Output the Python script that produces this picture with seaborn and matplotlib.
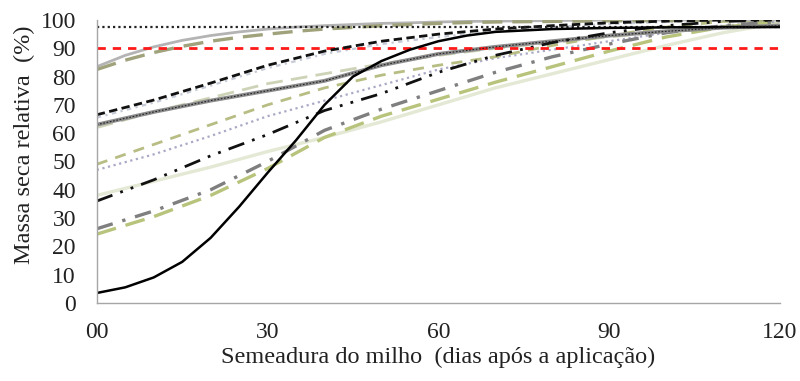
import numpy as np
import pandas as pd
import seaborn as sns
import matplotlib.pyplot as plt

# days after application
days = [0, 10, 20, 30, 40, 50, 60, 70, 80, 90, 100, 110, 120]
days_fine = [0, 5, 10, 15, 20, 25, 30, 35, 40, 45, 50, 55, 60, 65, 70, 80, 90, 100, 110, 120]

# relative dry mass (%)
ref_dotted = [97.5] * len(days)
ref_red = [90] * len(days)
gray_top = [83.5, 87.5, 90.5, 92.8, 94.5, 95.8, 96.8, 97.5, 98.0, 98.4, 98.8, 99.0, 99.3, 99.5, 99.6, 99.8, 100, 100, 100, 100]
olive_top = [82.5, 85.8, 88.5, 90.7, 92.5, 93.9, 95.0, 96.0, 96.8, 97.4, 98.0, 98.4, 98.8, 99.1, 99.3, 99.5, 99.7, 99.8, 100, 100]
black_dash = [66.5, 71.7, 77.7, 84.0, 89.0, 92.5, 95.0, 96.8, 98.0, 99.0, 99.6, 100, 100]
silver_dash = [65.5, 70.8, 76.8, 83.0, 88.0, 91.5, 94.0, 96.0, 97.5, 98.6, 99.3, 99.8, 100]
striped = [63.0, 67.5, 71.5, 75.0, 78.5, 84.0, 88.0, 90.5, 92.5, 94.5, 96.0, 97.3, 98.0]
pale_dash = [62.0, 67.5, 72.5, 77.5, 81.0, 84.5, 87.5, 90.0, 92.0, 94.0, 96.0, 97.8, 99.0]
olive_mid = [49.0, 56.0, 63.0, 70.0, 76.0, 80.5, 84.0, 87.0, 91.0, 94.5, 97.5, 99.5, 100]
lilac_dot = [47.0, 52.5, 59.0, 66.0, 71.5, 77.0, 82.5, 86.5, 89.5, 92.5, 95.5, 98.0, 99.5]
black_dd = [36.0, 43.5, 52.0, 59.5, 68.0, 74.0, 81.5, 87.5, 92.0, 95.5, 98.0, 99.5, 100]
pale_solid = [38.0, 43.0, 48.0, 53.5, 58.5, 64.0, 70.0, 76.0, 81.0, 86.0, 91.0, 95.5, 99.0]
gray_dd = [26.2, 32.5, 40.0, 50.0, 61.0, 68.5, 75.0, 81.5, 87.0, 91.5, 95.5, 98.0, 99.5]
olive_low = [24.3, 30.5, 38.0, 47.5, 58.5, 66.0, 72.0, 78.0, 83.5, 89.0, 94.0, 97.5, 99.5]
black_solid = [3.5, 5.5, 9.0, 14.5, 23.0, 34.0, 46.0, 57.5, 70.0, 80.0, 85.5, 89.5, 92.5, 94.5, 95.8, 96.8, 97.2, 97.4, 97.5, 97.5]

x_ticks = [0, 30, 60, 90, 120]
x_tick_labels = ["00", "30", "60", "90", "120"]
y_ticks = list(range(0, 101, 10))

sns.set_theme(style="white")
plt.rcParams["font.family"] = ["Liberation Serif", "DejaVu Serif"]

fig = plt.figure(figsize=(8, 3.81), dpi=100)
ax = fig.add_axes([0.121, 0.205, 0.854, 0.7425])

# (x, y, color, linewidth, dash pattern or None)
series = [
    (days, pale_solid, "#e3e9d4", 2.4, None),
    (days, pale_dash, "#cdd3b6", 2.0, (6, 3)),
    (days, silver_dash, "#c5cad6", 1.6, (2, 2, 1, 2)),
    (days, lilac_dot, "#a9a9c6", 1.6, (1, 1.6)),
    (days, olive_mid, "#b8bd84", 2.0, (4, 3)),
    (days_fine, gray_top, "#b4b4b4", 2.0, None),
    (days_fine, olive_top, "#9fa27a", 2.4, (6, 3)),
    (days, olive_low, "#b8c47c", 2.4, (6, 3)),
    (days, gray_dd, "#7f7f7f", 2.4, (5, 3, 1, 3)),
    (days, striped, "#8c8c8c", 2.8, None),
    (days, black_dd, "#111111", 2.0, (6, 3, 1, 3, 1, 3)),
    (days, ref_red, "#ff1a1a", 2.0, (3, 2.5)),
    (days, black_dash, "#111111", 2.0, (3, 1.6)),
    (days, ref_dotted, "#222222", 1.6, (1, 1.4)),
    (days_fine, black_solid, "#000000", 1.8, None),
]

for x, y, color, lw, dash in series:
    sns.lineplot(x=x, y=y, ax=ax, color=color, linewidth=lw)
    line = ax.lines[-1]
    if dash is not None:
        line.set_dashes(dash)

# black thread inside the striped line
sns.lineplot(x=days, y=striped, ax=ax, color="#222222", linewidth=0.8)
ax.lines[-1].set_dashes((1.5, 1.5))

ax.set_xlim(0, 120)
ax.set_ylim(0, 100)
ax.set_xticks(x_ticks)
ax.set_xticklabels(x_tick_labels)
ax.set_yticks(y_ticks)
ax.tick_params(axis="both", length=0, labelsize=17, colors="#222222")
ax.tick_params(axis="x", pad=14)
ax.tick_params(axis="y", pad=15)

for side in ["top", "right"]:
    ax.spines[side].set_visible(False)
for side in ["left", "bottom"]:
    ax.spines[side].set_color("#a6a6a6")
    ax.spines[side].set_linewidth(1.0)

ax.set_xlabel("Semeadura do milho  (dias após a aplicação)", fontsize=17.5, color="#222222")
ax.set_ylabel("Massa seca relativa  (%)", fontsize=17.5, color="#222222")
ax.xaxis.set_label_coords(0.5, -0.155)
ax.yaxis.set_label_coords(-0.09, 0.56)

fig.savefig("out.png", dpi=100)
